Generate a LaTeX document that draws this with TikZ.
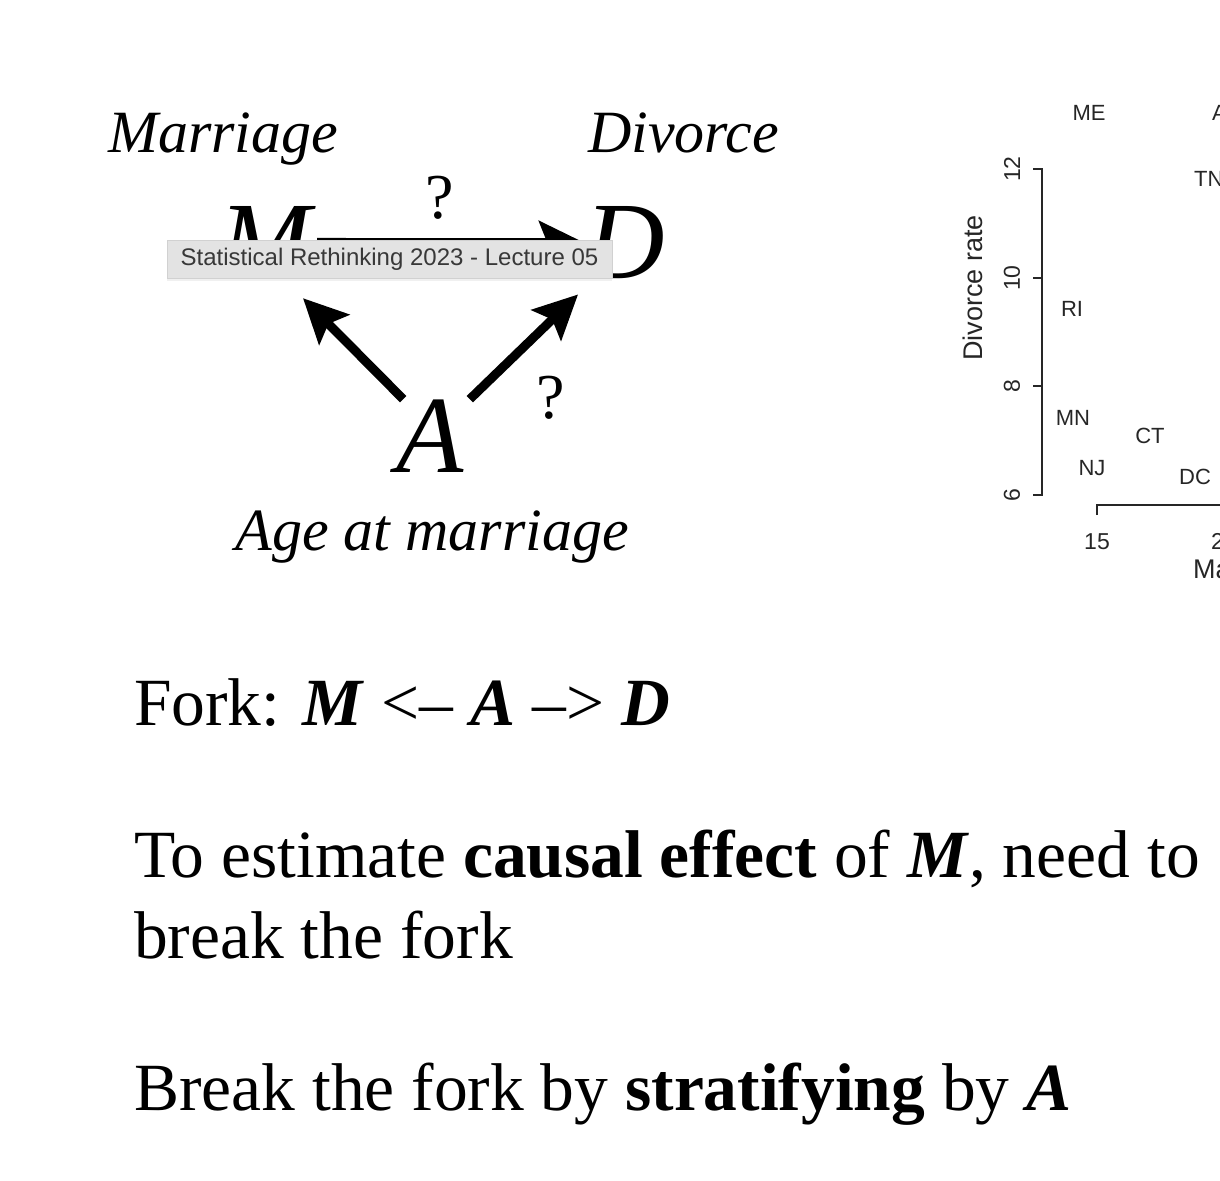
\documentclass[tikz,border=0pt]{standalone}
\usepackage{fontspec}
\setmainfont{Liberation Serif}
\newfontfamily\plotfont{Liberation Sans}
\usetikzlibrary{arrows.meta,shadows}
\tikzset{>={Stealth[length=44pt,width=42pt,inset=8pt]}}
\tikzset{
  dagvar/.style={inner sep=0pt,anchor=base,font=\fontsize{110}{110}\selectfont\itshape},
  varlabel/.style={inner sep=0pt,anchor=base,font=\fontsize{60}{60}\selectfont\itshape},
  quest/.style={inner sep=0pt,anchor=base,font=\fontsize{64}{64}\selectfont},
  dagarrow/.style={->,line width=9pt},
  textline/.style={inner sep=0pt,anchor=base west,font=\fontsize{67.5}{67.5}\selectfont},
  tooltip/.style={draw=black!18,fill=black!11,line width=0.8pt,inner sep=0pt,
    minimum width=445pt,minimum height=38pt,text=black!78,
    font=\plotfont\fontsize{24}{24}\selectfont,
    drop shadow={opacity=0.12,shadow xshift=0pt,shadow yshift=-3pt}},
  plotline/.style={line width=1.6pt,black!85},
  statelab/.style={inner sep=0pt,text=black!85,font=\plotfont\fontsize{22}{22}\selectfont},
  ticklab/.style={inner sep=0pt,text=black!85,font=\plotfont\fontsize{23}{23}\selectfont},
  axlab/.style={inner sep=0pt,text=black!85,font=\plotfont\fontsize{27}{27}\selectfont},
}

\begin{document}
\begin{tikzpicture}[x=1pt,y=-1pt]
  \useasboundingbox (0,0) rectangle (1220,1180);

  % the fork
  \node[varlabel,anchor=base west] at (108,152) (lm) {Marriage};
  \node[varlabel,anchor=base west] at (588,152) (ld) {Divorce};
  \node[varlabel] at (432,550) (la) {Age at marriage};

  \node[dagvar] at (265,278) (m) {M};
  \node[dagvar] at (625,278) (d) {D};
  \node[dagvar] at (430,472) (a) {A};

  \draw[dagarrow,line width=8pt] ([xshift=6pt]m.east) -- ([xshift=-2pt]d.west);
  \draw[dagarrow] ([xshift=7pt]a.north west) -- ([xshift=-8pt,yshift=-20pt]m.south east);
  \draw[dagarrow] ([xshift=6pt]a.north east) -- ([xshift=-7pt,yshift=-16pt]d.south west);

  \node[quest] at (440,218) (q1) {?};
  \node[quest] at (551,418) (q2) {?};

  \node[tooltip] at (389.5,259) (tt) {Statistical Rethinking 2023 - Lecture 05};

  % scatter plot, cut at the right edge
  \draw[plotline] (1033,169) -- (1042,169) -- (1042,495) -- (1033,495);
  \foreach \y in {278,386}
    \draw[plotline] (1033,\y) -- (1042,\y);
  \foreach \y/\t in {169/12,278/10,386/8,495/6}
    \node[ticklab,rotate=90] at (1012,\y) (t\t) {\t};
  \node[axlab,rotate=90] at (973,288) (ylab) {Divorce rate};

  \draw[plotline] (1097,515) -- (1097,505) -- (1230,505);
  \node[ticklab] at (1097,542) (x15) {15};
  \node[ticklab] at (1224,542) (x20) {20};
  \node[axlab,anchor=west] at (1193,572) (xlab) {Marriage rate};

  \node[statelab] at (1089,113) (me) {ME};
  \node[statelab,anchor=west] at (1212,113) (ar) {A};
  \node[statelab,anchor=west] at (1194,179) (tn) {TN};
  \node[statelab] at (1072,309) (ri) {RI};
  \node[statelab] at (1073,418) (mn) {MN};
  \node[statelab] at (1150,436) (ct) {CT};
  \node[statelab] at (1092,468) (nj) {NJ};
  \node[statelab] at (1195,477) (dc) {DC};

  % text
  \node[textline] at (134,725) (fork) {Fork: \textbf{\textit{M}} <– \textbf{\textit{A}} –> \textbf{\textit{D}}};
  \node[textline] at (134,877) (est) {To estimate \textbf{causal effect} of \textbf{\textit{M}}, need to};
  \node[textline] at (134,958) (brk) {break the fork};
  \node[textline] at (134,1110) (strat) {Break the fork by \textbf{stratifying} by \textbf{\textit{A}}};

\end{tikzpicture}
\end{document}
